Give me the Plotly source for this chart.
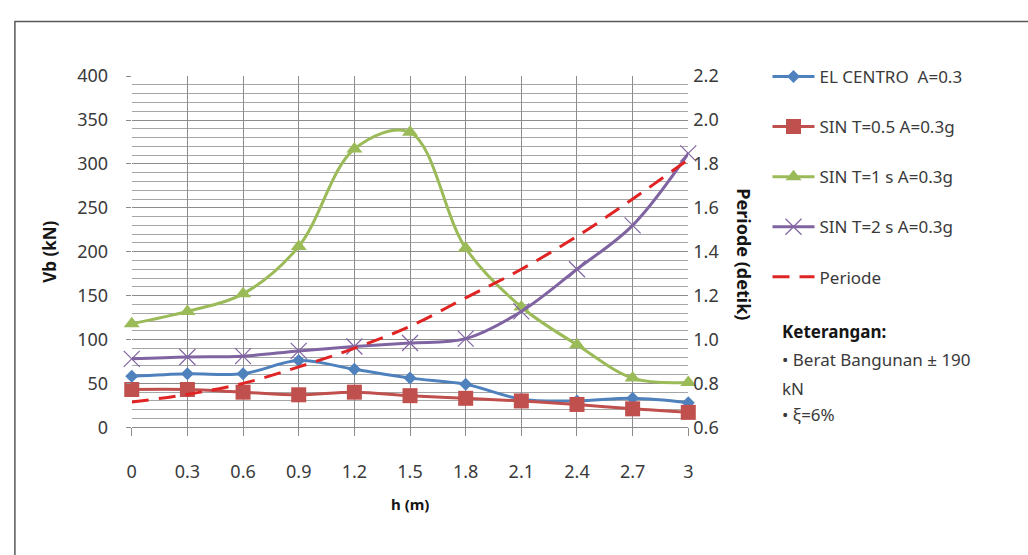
import plotly.graph_objects as go

# Height of the level (m)
h = [0, 0.3, 0.6, 0.9, 1.2, 1.5, 1.8, 2.1, 2.4, 2.7, 3.0]
h_labels = ["0", "0.3", "0.6", "0.9", "1.2", "1.5", "1.8", "2.1", "2.4", "2.7", "3"]

# Base shear Vb (kN) per excitation
vb_el_centro = [58, 61, 61, 76, 66, 56, 49, 32, 30, 33, 28]
vb_sin_05 = [43, 43, 40, 37, 40, 36, 33, 30, 26, 21, 17]
vb_sin_1 = [118, 132, 152, 206, 317, 336, 204, 137, 94, 56, 51]
vb_sin_2 = [78, 80, 81, 87, 92, 96, 101, 132, 180, 230, 312]

# Natural period (detik), plotted on the secondary axis
periode = [0.715, 0.75, 0.80, 0.875, 0.96, 1.06, 1.19, 1.32, 1.47, 1.64, 1.82]

W, H = 1028, 555
FONT = "Noto Sans"
TXT = "#3A3A3A"
DARK = "#151515"

# plot area in pixels (left, right, top, bottom)
PL, PR, PT, PB = 128, 690, 66, 433


def px_x(v):
    return v / W


def px_y(v):
    return 1 - v / H


fig = go.Figure()

series = [
    ("EL CENTRO  A=0.3", vb_el_centro, "#4F81BD", dict(symbol="diamond", size=10)),
    ("SIN T=0.5 A=0.3g", vb_sin_05, "#C0504D", dict(symbol="square", size=15)),
    ("SIN T=1 s A=0.3g", vb_sin_1, "#9BBB59", dict(symbol="triangle-up", size=14)),
    ("SIN T=2 s A=0.3g", vb_sin_2, "#8064A2",
     dict(symbol="x-thin-open", size=16, line=dict(width=1.2, color="#8064A2"))),
]

for i, (name, vals, col, mk) in enumerate(series):
    fig.add_trace(go.Scatter(
        x=h, y=vals, name=name, mode="lines+markers",
        line=dict(color=col, width=3, shape="spline", smoothing=1.0),
        marker=dict(color=col, **mk),
        cliponaxis=False, legendgroup=f"g{i}",
    ))

fig.add_trace(go.Scatter(
    x=h, y=periode, name="Periode", mode="lines", yaxis="y2",
    line=dict(color="#E02424", width=3, dash="17px,10px", shape="spline"),
    cliponaxis=False, legendgroup="g4",
))

fig.update_layout(
    width=W, height=H,
    margin=dict(l=0, r=0, t=0, b=0),
    paper_bgcolor="white", plot_bgcolor="white",
    font=dict(family=FONT, color=TXT, size=16),
    showlegend=True,
    legend=dict(
        x=px_x(770), y=px_y(48), xanchor="left", yanchor="top",
        font=dict(size=17, color=TXT), bgcolor="rgba(0,0,0,0)",
        tracegroupgap=25, traceorder="grouped", itemwidth=42,
    ),
    xaxis=dict(
        domain=[px_x(PL), px_x(PR)], range=[0, 3],
        tickvals=h, ticktext=h_labels,
        showgrid=True, gridcolor="#8C8C8C", gridwidth=1,
        ticks="outside", ticklen=8, tickcolor="#8C8C8C",
        ticklabelstandoff=20,
        showline=True, linecolor="#8C8C8C", zeroline=False,
        tickfont=dict(size=18, color=TXT),
    ),
    yaxis=dict(
        domain=[px_y(PB), px_y(PT)], range=[0, 400], dtick=50,
        showgrid=True, gridcolor="#8C8C8C", gridwidth=1,
        minor=dict(dtick=10, showgrid=True, gridcolor="#A6A6A6", gridwidth=1),
        ticks="outside", ticklen=5, tickcolor="#8C8C8C",
        ticklabelstandoff=14,
        showline=False, zeroline=False,
        tickfont=dict(size=18, color=TXT),
    ),
    yaxis2=dict(
        overlaying="y", side="right", anchor="x",
        range=[0.6, 2.2], dtick=0.2, tickformat=".1f",
        showgrid=False, zeroline=False, showline=False, ticks="",
        ticklabelstandoff=4,
        tickfont=dict(size=18, color=TXT),
    ),
)

# axis titles
fig.add_annotation(text="<b>Vb (kN)</b>", x=px_x(45), y=px_y(250),
                   xref="paper", yref="paper", textangle=-90, showarrow=False,
                   xanchor="center", yanchor="middle",
                   font=dict(size=17, color=DARK))
fig.add_annotation(text="<b>Periode (detik)</b>", x=px_x(746), y=px_y(252),
                   xref="paper", yref="paper", textangle=90, showarrow=False,
                   xanchor="center", yanchor="middle",
                   font=dict(size=18, color=DARK))
fig.add_annotation(text="<b>h (m)</b>", x=px_x(409), y=px_y(513),
                   xref="paper", yref="paper", showarrow=False,
                   xanchor="center", yanchor="middle",
                   font=dict(size=15, color=DARK))

# notes block
notes = [
    ("<b>Keterangan:</b>", 333, DARK),
    ("• Berat Bangunan ± 190", 362, TXT),
    ("kN", 392, TXT),
    ("• ξ=6%", 420, TXT),
]
for txt, yy, col in notes:
    fig.add_annotation(text=txt, x=px_x(783), y=px_y(yy), xref="paper", yref="paper",
                       xanchor="left", yanchor="middle", showarrow=False,
                       font=dict(size=17, color=col))

# chart frame (open to the right and bottom)
fig.add_shape(type="rect", xref="paper", yref="paper",
              x0=px_x(10), x1=1.3, y0=-0.3, y1=px_y(9),
              line=dict(color="#595959", width=1.5))

fig.write_html("out.html")
